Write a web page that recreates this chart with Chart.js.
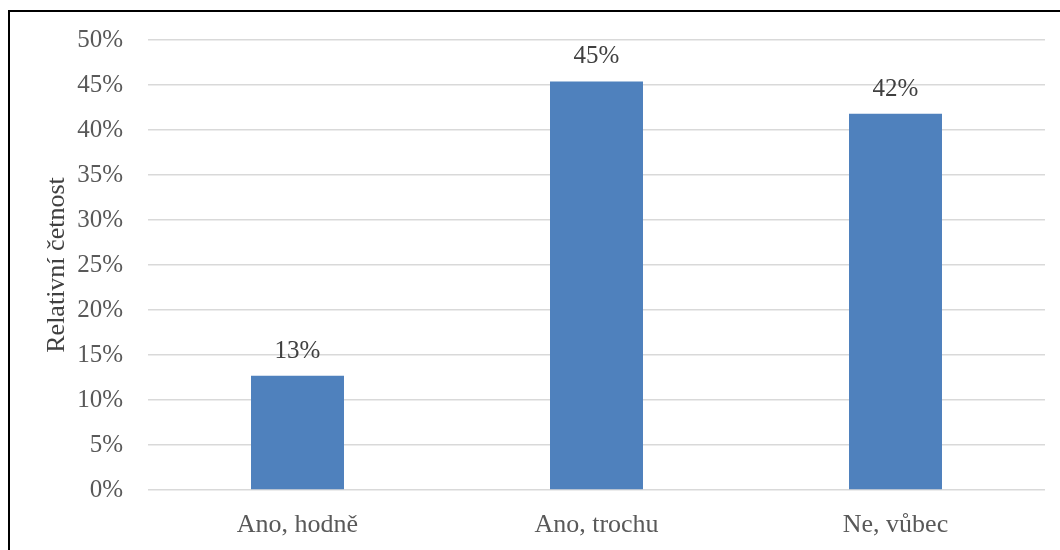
<!DOCTYPE html>
<html lang="cs">
<head>
<meta charset="utf-8">
<title>Relativní četnost</title>
<script src="https://cdn.jsdelivr.net/npm/chart.js@4/dist/chart.umd.min.js"></script>
<style>
    html, body { margin: 0; padding: 0; background: #fff; }
    #chart { display: block; }
</style>
</head>
<body>
<canvas id="chart" width="1060" height="550"></canvas>
<script>
// odpovědi a jejich relativní četnost (%)
const categories = ['Ano, hodně', 'Ano, trochu', 'Ne, vůbec'];
const shares = [12.7, 45.4, 41.8];

// osa Y
const yMin = 0;
const yMax = 50;
const yStep = 5;

const FONT = "'Liberation Serif', 'Times New Roman', serif";

// rámeček kolem grafu (horní a levá hrana)
const framePlugin = {
    id: 'frame',
    beforeDraw(chart) {
        const ctx = chart.ctx;
        ctx.save();
        ctx.fillStyle = '#fff';
        ctx.fillRect(0, 0, chart.width, chart.height);
        ctx.strokeStyle = '#000';
        ctx.lineWidth = 2;
        ctx.beginPath();
        ctx.moveTo(9, chart.height);
        ctx.lineTo(9, 11);
        ctx.lineTo(chart.width, 11);
        ctx.stroke();
        ctx.restore();
    }
};

// popisky hodnot nad sloupci
const valueLabels = {
    id: 'valueLabels',
    afterDatasetsDraw(chart) {
        const ctx = chart.ctx;
        const meta = chart.getDatasetMeta(0);
        ctx.save();
        ctx.font = '25px ' + FONT;
        ctx.fillStyle = '#404040';
        ctx.textAlign = 'center';
        ctx.textBaseline = 'alphabetic';
        meta.data.forEach((bar, i) => {
            ctx.fillText(Math.round(shares[i]) + '%', bar.x, bar.y - 18);
        });
        ctx.restore();
    }
};

new Chart(document.getElementById('chart'), {
    type: 'bar',
    data: {
        labels: categories,
        datasets: [{
            data: shares,
            backgroundColor: '#4f81bd',
            borderWidth: 0,
            categoryPercentage: 1,
            barPercentage: 0.311
        }]
    },
    options: {
        responsive: false,
        animation: false,
        layout: { padding: { top: 38, right: 15, bottom: 0, left: 0 } },
        plugins: {
            legend: { display: false },
            tooltip: { enabled: false }
        },
        scales: {
            x: {
                grid: { display: false },
                border: { display: false },
                ticks: {
                    color: '#595959',
                    font: { family: FONT, size: 26 },
                    padding: 12
                },
                afterFit: (scale) => { scale.height = 60; }
            },
            y: {
                min: yMin,
                max: yMax,
                grid: { color: '#d9d9d9', lineWidth: 1.5, drawTicks: false },
                border: { display: false },
                ticks: {
                    stepSize: yStep,
                    color: '#595959',
                    font: { family: FONT, size: 25 },
                    padding: 25,
                    callback: (v) => v + '%'
                },
                title: {
                    display: true,
                    text: 'Relativní četnost',
                    color: '#404040',
                    font: { family: FONT, size: 26 },
                    padding: { top: 42, bottom: 0 }
                },
                afterFit: (scale) => { scale.width = 148; }
            }
        }
    },
    plugins: [framePlugin, valueLabels]
});
</script>
</body>
</html>
